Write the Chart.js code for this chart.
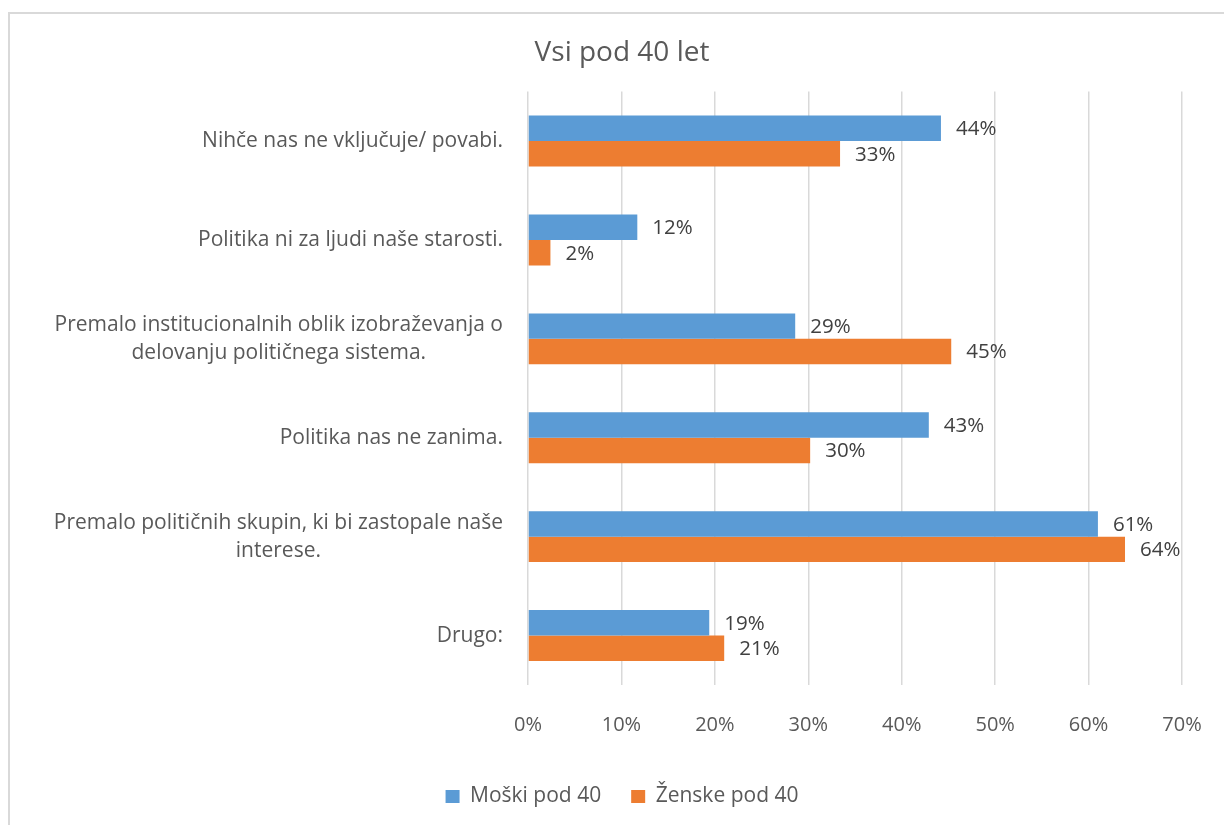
<!DOCTYPE html>
<html>
<head>
<meta charset="utf-8">
<script src="https://cdn.jsdelivr.net/npm/chart.js@4.4.0/dist/chart.umd.min.js"></script>
<style>
  html, body { margin: 0; padding: 0; background: #fff; overflow: hidden; }
  #frame { position: absolute; left: 8px; top: 12px; width: 1240px; height: 840px; border: 2px solid #d9d9d9; box-sizing: border-box; }
  #wrap { position: absolute; left: 0; top: 0; width: 1224px; height: 825px; }
</style>
</head>
<body>
<div id="frame"></div>
<div id="wrap"><canvas id="chart"></canvas></div>
<script>
const categories = [
  ['Nihče nas ne vključuje/ povabi.'],
  ['Politika ni za ljudi naše starosti.'],
  ['Premalo institucionalnih oblik izobraževanja o', 'delovanju političnega sistema.'],
  ['Politika nas ne zanima.'],
  ['Premalo političnih skupin, ki bi zastopale naše', 'interese.'],
  ['Drugo:']
];
const menValues = [44.2, 11.7, 28.6, 42.9, 61.0, 19.4];
const womenValues = [33.4, 2.4, 45.3, 30.2, 63.9, 21.0];
const xTicks = [0, 10, 20, 30, 40, 50, 60, 70];

const textColor = '#595959';
const fontFamily = "'Open Sans', sans-serif";

// category labels, centered lines, right edge next to the plot
const categoryLabels = {
  id: 'categoryLabels',
  afterDraw(chart) {
    const ctx = chart.ctx;
    const yScale = chart.scales.y;
    const right = chart.chartArea.left - 25;
    ctx.save();
    ctx.font = '21px ' + fontFamily;
    ctx.fillStyle = textColor;
    ctx.textAlign = 'center';
    ctx.textBaseline = 'middle';
    categories.forEach((lines, i) => {
      const y = yScale.getPixelForTick(i);
      const w = Math.max(...lines.map(l => ctx.measureText(l).width));
      const cx = right - w / 2;
      const lh = 28;
      const top = y - (lines.length - 1) * lh / 2;
      lines.forEach((l, j) => ctx.fillText(l, cx, top + j * lh));
    });
    ctx.restore();
  }
};

// value labels at the end of each bar
const valueLabels = {
  id: 'valueLabels',
  afterDatasetsDraw(chart) {
    const ctx = chart.ctx;
    ctx.save();
    ctx.font = '20.5px ' + fontFamily;
    ctx.fillStyle = '#404040';
    ctx.textAlign = 'left';
    ctx.textBaseline = 'middle';
    chart.data.datasets.forEach((ds, di) => {
      chart.getDatasetMeta(di).data.forEach((bar, i) => {
        ctx.fillText(Math.round(ds.data[i]) + '%', bar.x + 15, bar.y + 1);
      });
    });
    ctx.restore();
  }
};

const ctx = document.getElementById('chart').getContext('2d');
const chart = new Chart(ctx, {
  type: 'bar',
  data: {
    labels: categories.map(c => c.join(' ')),
    datasets: [
      {
        label: 'Moški pod 40',
        backgroundColor: '#5b9bd5',
        data: menValues
      },
      {
        label: 'Ženske pod 40',
        backgroundColor: '#ed7d31',
        data: womenValues
      }
    ]
  },
  options: {
    indexAxis: 'y',
    responsive: true,
    maintainAspectRatio: false,
    animation: false,
    layout: { autoPadding: false, padding: { left: 62, right: 42, top: 20, bottom: 8 } },
    datasets: {
      bar: { categoryPercentage: 0.515, barPercentage: 1.0 }
    },
    scales: {
      x: {
        min: 0,
        max: 70,
        afterBuildTicks: (scale) => { scale.ticks = xTicks.map(v => ({ value: v })); },
        afterFit: (scale) => {
          scale.height -= 9;
          scale.paddingLeft = 0;
          scale.paddingRight = 0;
        },
        grid: { color: '#d9d9d9', lineWidth: 1.5, drawTicks: false },
        border: { display: false },
        ticks: {
          padding: 28,
          color: textColor,
          font: { size: 20, family: fontFamily },
          callback: (v) => v + '%'
        }
      },
      y: {
        afterFit: (scale) => { scale.width = 466; },
        grid: { display: false },
        border: { display: false },
        ticks: { display: false }
      }
    },
    plugins: {
      title: {
        display: true,
        text: 'Vsi pod 40 let',
        color: textColor,
        font: { size: 28, weight: 'normal', family: fontFamily },
        padding: { top: 16, bottom: 22 }
      },
      legend: {
        position: 'bottom',
        labels: {
          boxWidth: 14,
          boxHeight: 13,
          padding: 30,
          color: textColor,
          font: { size: 21, family: fontFamily }
        }
      },
      tooltip: { enabled: false }
    }
  },
  plugins: [categoryLabels, valueLabels]
});
</script>
</body>
</html>
